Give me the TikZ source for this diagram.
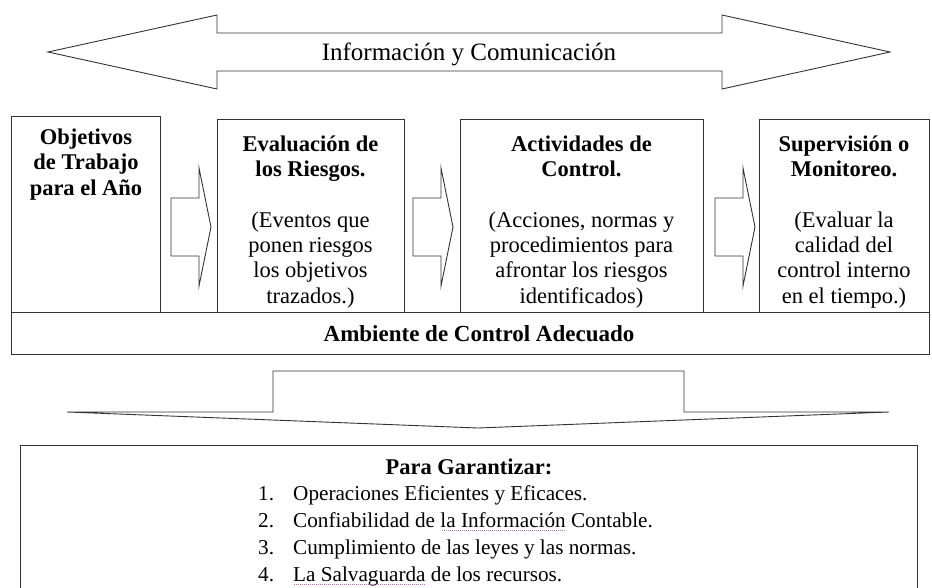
\documentclass[tikz,border=0pt]{standalone}
\usepackage{fontspec}
\setmainfont{Liberation Serif}
\usetikzlibrary{positioning}
\newbox\cajasub
\newcommand{\subrayado}[1]{\setbox\cajasub\hbox{#1}\rlap{#1}\textcolor{violet!55}{\leaders\hbox to 2pt{\hss\rule[-3.5pt]{1pt}{1pt}\hss}\hskip\wd\cajasub}}

\begin{document}
\begin{tikzpicture}[x=1pt,y=-1pt,
        caja/.style={draw=black!80,line width=1pt,inner sep=0pt},
        texto/.style={align=center,inner sep=0pt,font=\fontsize{22.5}{25.3}\selectfont},
        lista/.style={inner sep=0pt,anchor=base west,font=\fontsize{21.2}{25}\selectfont},
        flecha/.style={draw=black!80,line width=0.9pt,line join=miter}]
        \useasboundingbox (0,0) rectangle (932,587);
        % flecha doble de arriba
        \draw[flecha] (48,52)--(217,15)--(217,33)--(722,33)--(722,15)--(890,52)--(722,89)--(722,71)--(217,71)--(217,89)--cycle;
        \node[texto,anchor=base,font=\fontsize{25}{28}\selectfont] (info) at (469,60) {Información y Comunicación};
        % cajas
        \node[caja,minimum width=149,minimum height=196] (obj) at (85.5,214) {};
        \node[caja,minimum width=187,minimum height=193] (eval) at (310.5,215.5) {};
        \node[caja,minimum width=243,minimum height=193] (act) at (581.5,215.5) {};
        \node[caja,minimum width=170,minimum height=193] (sup) at (844,215.5) {};
        \node[caja,minimum width=918,minimum height=42] (amb) at (470,333) {};
        \node[texto,anchor=base] (objT) at (86,195) {\textbf{Objetivos}\\\textbf{de Trabajo}\\\textbf{para el Año}};
        \node[texto,anchor=base] (evalT) at (310.5,303) {\textbf{Evaluación de}\\\textbf{los Riesgos.}\\[25.3pt](Eventos que\\ponen riesgos\\los objetivos\\trazados.)};
        \node[texto,anchor=base] (actT) at (581.5,303) {\textbf{Actividades de}\\\textbf{Control.}\\[25.3pt](Acciones, normas y\\procedimientos para\\afrontar los riesgos\\identificados)};
        \node[texto,anchor=base] (supT) at (844,303) {\textbf{Supervisión o}\\\textbf{Monitoreo.}\\[25.3pt](Evaluar la\\calidad del\\control interno\\en el tiempo.)};
        \node[texto,anchor=base,font=\fontsize{23}{26}\selectfont] (ambT) at (479,341) {\textbf{Ambiente de Control Adecuado}};
        % flechas entre cajas
        \foreach \x in {171,413,715}
            {
                \draw[flecha] (\x,198)--(\x+28,198)--(\x+28,168)--(\x+40,227)--(\x+28,286)--(\x+28,256)--(\x,256)--cycle;
            }
        % flecha hacia abajo
        \draw[flecha] (273,412)--(273,371)--(684,371)--(684,412)--(889,412)--(478,428)--(67,412)--cycle;
        % caja de abajo
        \node[caja,minimum width=897,minimum height=160] (gar) at (468.5,525) {};
        \node[texto,anchor=base] (garT) at (469,474) {\textbf{Para Garantizar:}};
        \foreach \t [count=\i] in {Operaciones Eficientes y Eficaces.,Confiabilidad de \subrayado{la Información} Contable.,Cumplimiento de las leyes y las normas.,\subrayado{La Salvaguarda} de los recursos.}
            {
                \node[lista] (num\i) at (258,473+27*\i) {\i.};
                \node[lista] (item\i) at (293,473+27*\i) {\t};
            }
    \end{tikzpicture}
\end{document}
